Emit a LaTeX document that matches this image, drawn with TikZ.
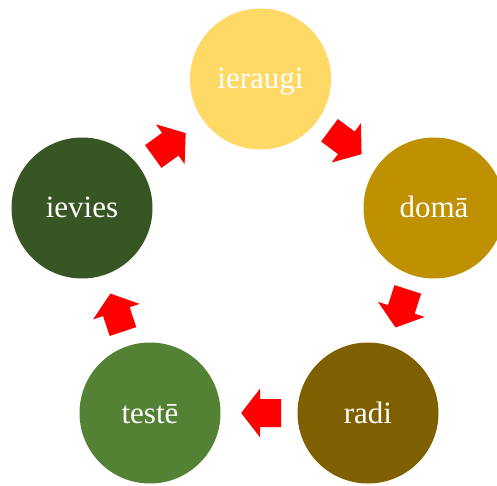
\documentclass[tikz,border=0pt]{standalone}
\usepackage{fontspec}
\setmainfont{Liberation Serif}
\usetikzlibrary{calc}
\definecolor{cA}{HTML}{FFD966}
\definecolor{cB}{HTML}{BF9000}
\definecolor{cC}{HTML}{7F6000}
\definecolor{cD}{HTML}{548235}
\definecolor{cE}{HTML}{375623}
\begin{document}
\begin{tikzpicture}[x=1pt,y=-1pt,
  stage/.style={circle, minimum size=141pt, inner sep=0pt, text=white,
    text height=20pt, text depth=0pt, font=\fontsize{31}{37}\selectfont},
  blockarrow/.style={fill=red, draw=none}]
\useasboundingbox (0,0) rectangle (497,486);
\node[stage, fill=cA] (s1) at (260.5,79) {ieraugi};
\node[stage, fill=cB] (s2) at (434,208) {domā};
\node[stage, fill=cC] (s3) at (368,413) {radi};
\node[stage, fill=cD] (s4) at (150,413) {testē};
\node[stage, fill=cE] (s5) at (82,208) {ievies};
\foreach \a/\b in {s1/s2, s2/s3, s3/s4, s4/s5, s5/s1} {
  \path[blockarrow] let \p1=($(\b.center)-(\a.center)$), \n1={atan2(\y1,\x1)} in
    [shift={($(\a.center)!0.49!(\b.center)$)}, rotate=\n1]
    (20,0) -- (1,24.5) -- (1,14) -- (-20,14) -- (-20,-14) -- (1,-14) -- (1,-24.5) -- cycle;
}
\end{tikzpicture}
\end{document}
